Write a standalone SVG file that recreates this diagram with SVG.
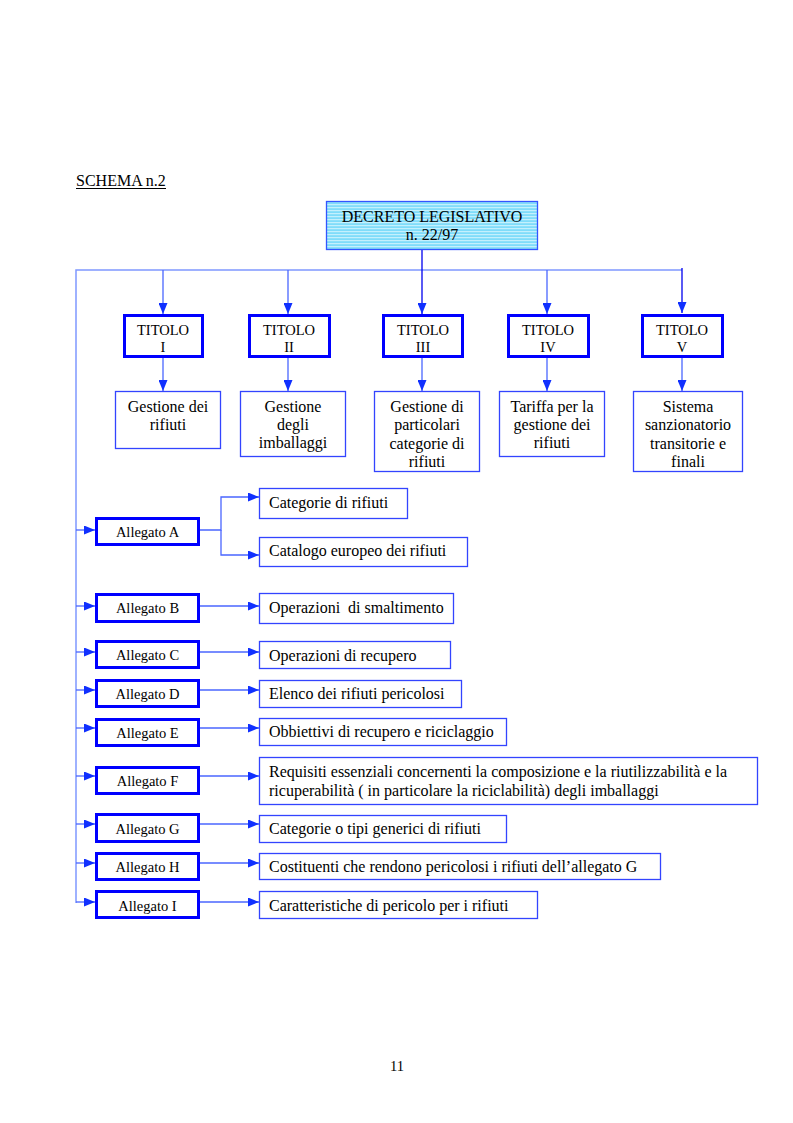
<svg xmlns="http://www.w3.org/2000/svg" width="793" height="1123" viewBox="0 0 793 1123">
<style>
text{font-family:"Liberation Serif","Times New Roman",serif;fill:#000}
.t16{font-size:16px}
.t14{font-size:14.5px}
.c{text-anchor:middle}
.thick{fill:#fff;stroke:#0000ff;stroke-width:3}
.thin{fill:#fff;stroke:#3344ff;stroke-width:1.3}
.ln{fill:none;stroke:#4a66ff;stroke-width:1.3}
.lt{fill:none;stroke:#7f98ff;stroke-width:1.5}
.dk{fill:none;stroke:#0000ee;stroke-width:1.3}
</style>
<defs>
<pattern id="stripes" patternUnits="userSpaceOnUse" width="6" height="3">
<rect width="6" height="3" fill="#7fdcfa"/>
<rect width="6" height="1.2" fill="#c4f0fd"/>
</pattern>
<marker id="ah" markerUnits="userSpaceOnUse" markerWidth="11" markerHeight="9" refX="11" refY="4.5" orient="auto" viewBox="0 0 11 9">
<path d="M0,0 L11,4.5 L0,9 z" fill="#1030ff"/>
</marker>
</defs>
<rect width="793" height="1123" fill="#fff"/>

<text class="t16" x="76" y="186">SCHEMA n.2</text>
<line x1="76" y1="188.5" x2="166" y2="188.5" stroke="#000" stroke-width="1"/>

<g id="connectors">
<polyline class="lt" points="76,903 76,270 682,270"/>
<line class="dk" x1="422" y1="250" x2="422" y2="314" marker-end="url(#ah)"/>
<line class="ln" x1="163" y1="270" x2="163" y2="314" marker-end="url(#ah)"/>
<line class="ln" x1="288" y1="270" x2="288" y2="314" marker-end="url(#ah)"/>
<line class="ln" x1="547" y1="270" x2="547" y2="314" marker-end="url(#ah)"/>
<line class="dk" x1="682" y1="268" x2="682" y2="313" marker-end="url(#ah)"/>
<line class="ln" x1="163" y1="358" x2="163" y2="391" marker-end="url(#ah)"/>
<line class="ln" x1="288" y1="358" x2="288" y2="391" marker-end="url(#ah)"/>
<line class="ln" x1="422" y1="358" x2="422" y2="391" marker-end="url(#ah)"/>
<line class="ln" x1="547" y1="358" x2="547" y2="391" marker-end="url(#ah)"/>
<line class="ln" x1="682" y1="358" x2="682" y2="391" marker-end="url(#ah)"/>

<line class="ln" x1="76" y1="530" x2="95" y2="530" marker-end="url(#ah)"/>
<line class="ln" x1="76" y1="606" x2="95" y2="606" marker-end="url(#ah)"/>
<line class="ln" x1="76" y1="652" x2="95" y2="652" marker-end="url(#ah)"/>
<line class="ln" x1="76" y1="690" x2="95" y2="690" marker-end="url(#ah)"/>
<line class="ln" x1="76" y1="728" x2="95" y2="728" marker-end="url(#ah)"/>
<line class="ln" x1="76" y1="776" x2="95" y2="776" marker-end="url(#ah)"/>
<line class="ln" x1="76" y1="824" x2="95" y2="824" marker-end="url(#ah)"/>
<line class="ln" x1="76" y1="863" x2="95" y2="863" marker-end="url(#ah)"/>
<line class="ln" x1="76" y1="902" x2="95" y2="902" marker-end="url(#ah)"/>

<polyline class="ln" points="199,530 221,530 221,497 259,497" marker-end="url(#ah)"/>
<polyline class="ln" points="221,530 221,555 259,555" marker-end="url(#ah)"/>
<line class="ln" x1="200" y1="606" x2="259" y2="606" marker-end="url(#ah)"/>
<line class="ln" x1="200" y1="652" x2="259" y2="652" marker-end="url(#ah)"/>
<line class="ln" x1="200" y1="690" x2="259" y2="690" marker-end="url(#ah)"/>
<line class="ln" x1="200" y1="728" x2="259" y2="728" marker-end="url(#ah)"/>
<line class="ln" x1="200" y1="776" x2="259" y2="776" marker-end="url(#ah)"/>
<line class="ln" x1="200" y1="824" x2="259" y2="824" marker-end="url(#ah)"/>
<line class="ln" x1="200" y1="863" x2="259" y2="863" marker-end="url(#ah)"/>
<line class="ln" x1="200" y1="902" x2="259" y2="902" marker-end="url(#ah)"/>
</g>

<g id="decreto">
<rect x="326.5" y="201.5" width="211" height="48" fill="url(#stripes)" stroke="#3355ff" stroke-width="1.3"/>
<text class="t16 c" x="432" y="222">DECRETO LEGISLATIVO</text>
<text class="t16 c" x="432" y="240">n. 22/97</text>
</g>

<g id="titolo1"><rect class="thick" x="124.5" y="315.5" width="78" height="41"/><text class="t14 c" x="163" y="335">TITOLO</text><text class="t14 c" x="163" y="352">I</text></g>
<g id="titolo2"><rect class="thick" x="249.5" y="315.5" width="80" height="41"/><text class="t14 c" x="289" y="335">TITOLO</text><text class="t14 c" x="289" y="352">II</text></g>
<g id="titolo3"><rect class="thick" x="383.5" y="315.5" width="79" height="41"/><text class="t14 c" x="423" y="335">TITOLO</text><text class="t14 c" x="423" y="352">III</text></g>
<g id="titolo4"><rect class="thick" x="508.5" y="315.5" width="80" height="41"/><text class="t14 c" x="548" y="335">TITOLO</text><text class="t14 c" x="548" y="352">IV</text></g>
<g id="titolo5"><rect class="thick" x="642.5" y="315.5" width="80" height="41"/><text class="t14 c" x="682" y="335">TITOLO</text><text class="t14 c" x="682" y="352">V</text></g>

<g id="gestione-rifiuti"><rect class="thin" x="115.5" y="391.5" width="105" height="57"/><text class="t16 c" x="168" y="412">Gestione dei</text><text class="t16 c" x="168" y="430">rifiuti</text></g>
<g id="gestione-imballaggi"><rect class="thin" x="240.5" y="391.5" width="105" height="65"/><text class="t16 c" x="293" y="412">Gestione</text><text class="t16 c" x="293" y="430">degli</text><text class="t16 c" x="293" y="448">imballaggi</text></g>
<g id="gestione-particolari"><rect class="thin" x="374.5" y="391.5" width="105" height="80"/><text class="t16 c" x="427" y="412">Gestione di</text><text class="t16 c" x="427" y="430">particolari</text><text class="t16 c" x="427" y="449">categorie di</text><text class="t16 c" x="427" y="467">rifiuti</text></g>
<g id="tariffa"><rect class="thin" x="499.5" y="391.5" width="105" height="65"/><text class="t16 c" x="552" y="412">Tariffa per la</text><text class="t16 c" x="552" y="430">gestione dei</text><text class="t16 c" x="552" y="448">rifiuti</text></g>
<g id="sistema"><rect class="thin" x="633.5" y="391.5" width="109" height="80"/><text class="t16 c" x="688" y="412">Sistema</text><text class="t16 c" x="688" y="430">sanzionatorio</text><text class="t16 c" x="688" y="449">transitorie e</text><text class="t16 c" x="688" y="467">finali</text></g>

<g id="allegatoA"><rect class="thick" x="96.5" y="518.5" width="102" height="26"/><text class="t14 c" x="147.5" y="537">Allegato A</text></g>
<g id="allegatoB"><rect class="thick" x="96.5" y="594.5" width="102" height="27"/><text class="t14 c" x="147.5" y="613">Allegato B</text></g>
<g id="allegatoC"><rect class="thick" x="96.5" y="641.5" width="102" height="26"/><text class="t14 c" x="147.5" y="660">Allegato C</text></g>
<g id="allegatoD"><rect class="thick" x="96.5" y="680.5" width="102" height="26"/><text class="t14 c" x="147.5" y="699">Allegato D</text></g>
<g id="allegatoE"><rect class="thick" x="96.5" y="719.5" width="102" height="26"/><text class="t14 c" x="147.5" y="738">Allegato E</text></g>
<g id="allegatoF"><rect class="thick" x="96.5" y="767.5" width="102" height="26"/><text class="t14 c" x="147.5" y="786">Allegato F</text></g>
<g id="allegatoG"><rect class="thick" x="96.5" y="814.5" width="102" height="27"/><text class="t14 c" x="147.5" y="834">Allegato G</text></g>
<g id="allegatoH"><rect class="thick" x="96.5" y="853.5" width="102" height="26"/><text class="t14 c" x="147.5" y="872">Allegato H</text></g>
<g id="allegatoI"><rect class="thick" x="96.5" y="891.5" width="102" height="26"/><text class="t14 c" x="147.5" y="911">Allegato I</text></g>

<g id="categorie"><rect class="thin" x="259.5" y="488.5" width="148" height="30"/><text class="t16" x="269" y="508">Categorie di rifiuti</text></g>
<g id="catalogo"><rect class="thin" x="259.5" y="537.5" width="208" height="29"/><text class="t16" x="269" y="556">Catalogo europeo dei rifiuti</text></g>
<g id="smaltimento"><rect class="thin" x="259.5" y="593.5" width="194" height="30"/><text class="t16" x="269" y="613" xml:space="preserve">Operazioni  di smaltimento</text></g>
<g id="recupero"><rect class="thin" x="259.5" y="641.5" width="191" height="27"/><text class="t16" x="269" y="661">Operazioni di recupero</text></g>
<g id="elenco"><rect class="thin" x="259.5" y="680.5" width="202" height="27"/><text class="t16" x="269" y="699">Elenco dei rifiuti pericolosi</text></g>
<g id="obbiettivi"><rect class="thin" x="259.5" y="718.5" width="247" height="27"/><text class="t16" x="269" y="737">Obbiettivi di recupero e riciclaggio</text></g>
<g id="requisiti"><rect class="thin" x="259.5" y="757.5" width="498" height="47"/><text class="t16" x="269" y="777">Requisiti essenziali concernenti la composizione e la riutilizzabilità e la</text><text class="t16" x="269" y="796">ricuperabilità ( in particolare la riciclabilità) degli imballaggi</text></g>
<g id="tipi"><rect class="thin" x="259.5" y="815.5" width="247" height="27"/><text class="t16" x="269" y="834">Categorie o tipi generici di rifiuti</text></g>
<g id="costituenti"><rect class="thin" x="259.5" y="853.5" width="401" height="26"/><text class="t16" x="269" y="872">Costituenti che rendono pericolosi i rifiuti dell’allegato G</text></g>
<g id="caratteristiche"><rect class="thin" x="259.5" y="891.5" width="278" height="27"/><text class="t16" x="269" y="911">Caratteristiche di pericolo per i rifiuti</text></g>

<text class="t14" x="390" y="1071">11</text>
</svg>
